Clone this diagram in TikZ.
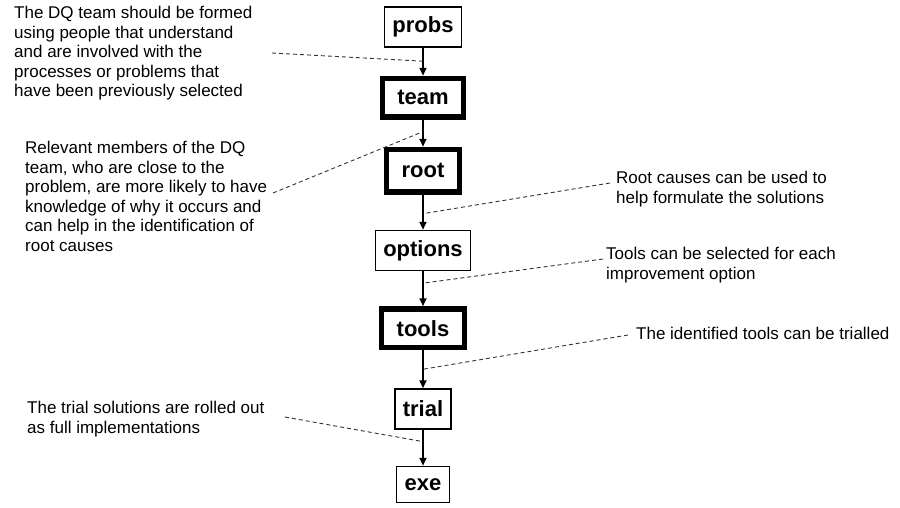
\documentclass[tikz,border=0pt]{standalone}
\usepackage{fontspec}
\setmainfont{Liberation Sans}
\usetikzlibrary{arrows.meta,positioning,calc}

\begin{document}
\begin{tikzpicture}[x=1pt,y=1pt,every node/.style={font=\fontsize{17}{19.5}\selectfont},stage/.style={draw,line width=1.5pt,fill=white,font=\fontsize{22}{24}\selectfont\bfseries,minimum height=40pt,inner xsep=8pt,inner ysep=0pt},keystage/.style={stage,line width=5.5pt,minimum height=38.5pt,inner xsep=15pt},note/.style={align=left,anchor=north west,inner sep=0pt},arrow/.style={-{Triangle[length=8pt,width=7pt]},line width=2pt},leader/.style={dashed,dash pattern=on 4pt off 3pt,line width=0.9pt,black!80}]
\useasboundingbox (0,0) rectangle (900,-507);
% the chain of stages
\node[stage] (probs) at (423,-27) {probs};
\node[keystage,below=28pt of probs] (team) {team};
\node[keystage,below=27pt of team,minimum height=42.5pt] (root) {root};
\node[stage,below=35pt of root] (options) {options};
\node[keystage,below=35pt of options] (tools) {tools};
\node[stage,below=38pt of tools] (trial) {trial};
\node[stage,below=36pt of trial,minimum height=36pt] (exe) {exe};
\draw[arrow] (probs)--(team); \draw[arrow] (team)--(root); \draw[arrow] (root)--(options);
\draw[arrow] (options)--(tools); \draw[arrow] (tools)--(trial); \draw[arrow] (trial)--(exe);
% notes
\node[note] (n1) at (14,-6) {The DQ team should be formed\\using people that understand\\and are involved with the\\processes or problems that\\have been previously selected};
\node[note] (n2) at (25,-141) {Relevant members of the DQ\\team, who are close to the\\problem, are more likely to have\\knowledge of why it occurs and\\can help in the identification of\\root causes};
\node[note] (n3) at (616,-171) {Root causes can be used to\\help formulate the solutions};
\node[note] (n4) at (606,-247) {Tools can be selected for each\\improvement option};
\node[note] (n5) at (636,-327) {The identified tools can be trialled};
\node[note] (n6) at (27,-401) {The trial solutions are rolled out\\as full implementations};
% leader lines from the notes to the arrows
\coordinate (l1) at (272,-53); \coordinate (l2) at (273,-193); \coordinate (l3) at (610,-183);
\coordinate (l4) at (603,-259); \coordinate (l5) at (628,-335); \coordinate (l6) at (285,-417);
\draw[leader] (l1)--($(probs.south)!0.48!(team.north)$);
\draw[leader] (l2)--($(team.south)!0.44!(root.north)$);
\draw[leader] (l3)--($(root.south)!0.54!(options.north)$);
\draw[leader] (l4)--($(options.south)!0.34!(tools.north)$);
\draw[leader] (l5)--($(tools.south)!0.5!(trial.north)$);
\draw[leader] (l6)--($(trial.south)!0.33!(exe.north)$);
\end{tikzpicture}
\end{document}
